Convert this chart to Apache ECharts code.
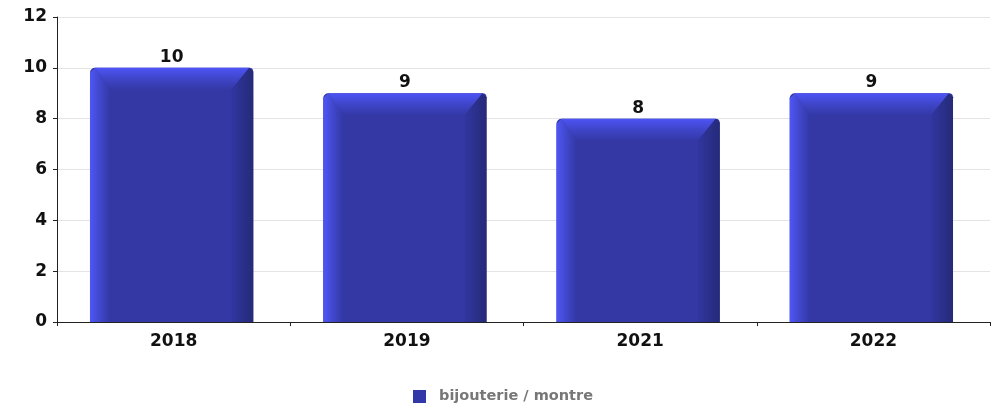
<!DOCTYPE html>
<html><head><meta charset="utf-8">
<script src="https://cdn.jsdelivr.net/npm/echarts@6/dist/echarts.min.js"></script>
<style>html,body{margin:0;padding:0;background:#fff}#c{width:994px;height:410px}</style>
</head><body><div id="c"></div>
<script>
const categories = ['2018', '2019', '2021', '2022'];
const values = [10, 9, 8, 9];
const seriesName = 'bijouterie / montre';
const yTicks = [0, 2, 4, 6, 8, 10, 12];

const chart = echarts.init(document.getElementById('c'));
const font = 'DejaVu Sans';

function renderBar(params, api) {
  const idx = api.value(0), v = api.value(1);
  const top = api.coord([idx, v]);
  const base = api.coord([idx, 0]);
  const band = api.size([1, 0])[0];
  const w = band * 0.7;
  const cx = top[0] - 2;
  const x0 = cx - w / 2, x1 = cx + w / 2;
  const y0 = top[1], y1 = base[1];
  const h = y1 - y0;
  const bl = 20, bt = 22, br = 22;
  const r = 5;
  return {
    type: 'group',
    children: [
      { type: 'rect', shape: { x: x0, y: y0, width: w, height: h, r: [r, 4, 0, 0] },
        style: { fill: '#3338a5' } },
      { type: 'polygon', shape: { points: [[x0, y0 + r], [x0 + r, y0], [x0 + bl, y0 + bt], [x0 + bl, y1], [x0, y1]] },
        style: { fill: new echarts.graphic.LinearGradient(0, 0, 1, 0, [
          { offset: 0, color: '#4e56f8' }, { offset: 0.4, color: '#434ad2' }, { offset: 1, color: '#3338a5' }]) } },
      { type: 'polygon', shape: { points: [[x0 + r, y0], [x1 - 4, y0], [x1 - br, y0 + bt], [x0 + bl, y0 + bt]] },
        style: { fill: new echarts.graphic.LinearGradient(0, 0, 0, 1, [
          { offset: 0, color: '#4d54f4' }, { offset: 0.5, color: '#3f45c8' }, { offset: 1, color: '#3338a6' }]) } },
      { type: 'polygon', shape: { points: [[x1 - 4, y0], [x1, y0 + 4], [x1, y1], [x1 - br, y1], [x1 - br, y0 + bt]] },
        style: { fill: new echarts.graphic.LinearGradient(0, 0, 1, 0, [
          { offset: 0, color: '#3136a0' }, { offset: 1, color: '#252a78' }]) } },
      { type: 'text', x: cx, y: y0 - 2,
        style: { text: String(v), fill: '#111', font: 'bold 17px "' + font + '"', align: 'center', verticalAlign: 'bottom' } }
    ]
  };
}

chart.setOption({
  animation: false,
  backgroundColor: '#fff',
  grid: { left: 57, right: 4, top: 17, bottom: 88 },
  legend: {
    bottom: 1, left: 408, icon: 'rect', itemWidth: 13, itemHeight: 13, itemGap: 12,
    data: [{ name: seriesName, itemStyle: { color: '#3238a8' } }],
    textStyle: { color: '#777', fontWeight: 'bold', fontSize: 14.5, fontFamily: font, padding: [0, 0, 0, 8] }
  },
  xAxis: {
    type: 'category', data: categories,
    axisLine: { lineStyle: { color: '#222', width: 1 } },
    axisTick: { show: true, alignWithLabel: false, length: 4, lineStyle: { color: '#222' } },
    axisLabel: { color: '#111', fontWeight: 'bold', fontSize: 17, fontFamily: font, margin: 11 }
  },
  yAxis: {
    type: 'value', min: 0, max: 12, interval: 2,
    axisLine: { show: true, lineStyle: { color: '#222', width: 1 } },
    axisTick: { show: true, length: 4, lineStyle: { color: '#222' } },
    axisLabel: { color: '#111', fontWeight: 'bold', fontSize: 17, fontFamily: font, margin: 10,
      formatter: v => yTicks.includes(v) ? String(v) : '' },
    splitLine: { lineStyle: { color: '#e4e4e4' } }
  },
  series: [{
    name: seriesName, type: 'custom', renderItem: renderBar,
    itemStyle: { color: '#3238a8' },
    data: categories.map((c, i) => [i, values[i]]),
    encode: { x: 0, y: 1 }
  }]
});
</script></body></html>
